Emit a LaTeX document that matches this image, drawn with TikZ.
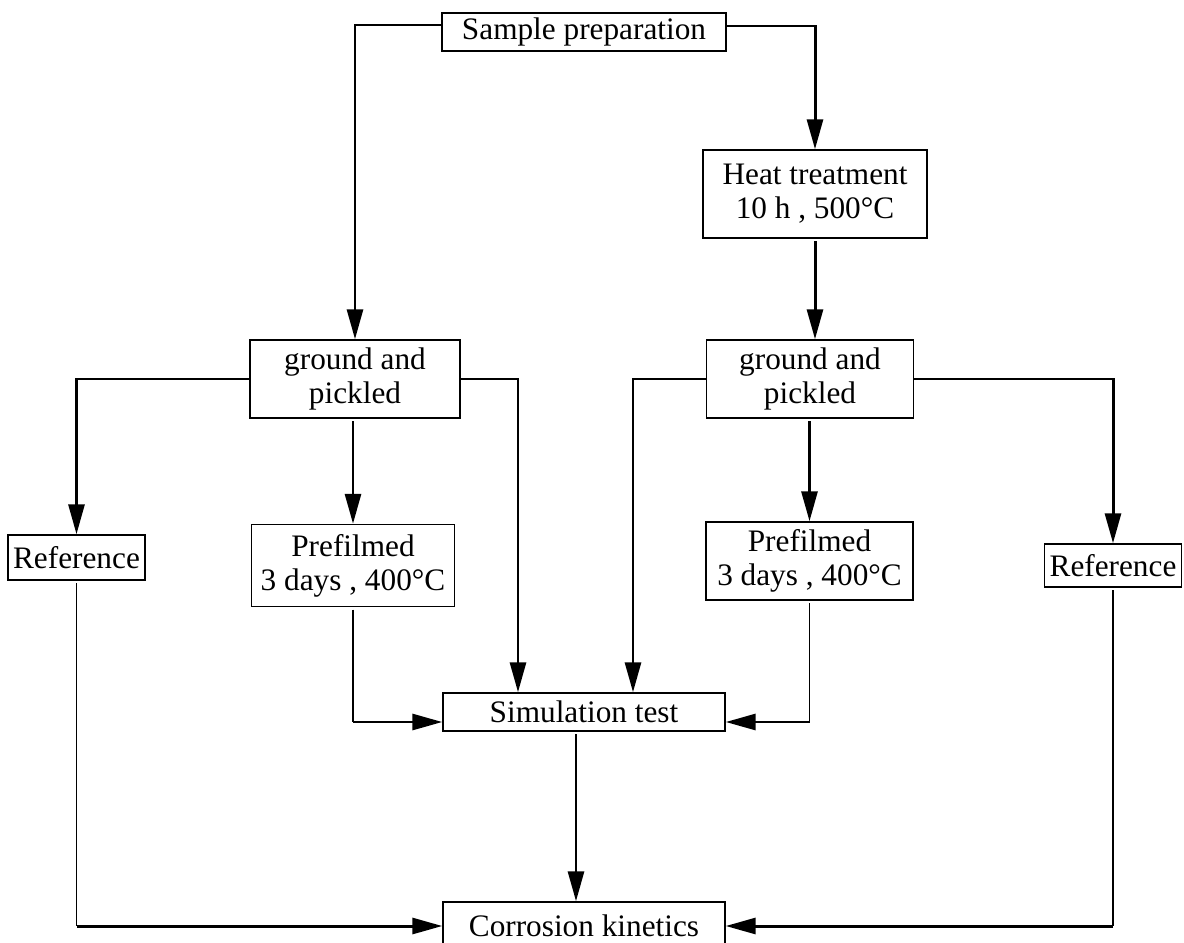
\documentclass[tikz,border=0pt]{standalone}
\usepackage{fontspec}
\setmainfont{Liberation Serif}
\usetikzlibrary{arrows.meta}
\begin{document}
\begin{tikzpicture}[x=0.02cm,y=-0.02cm,
  box/.style={draw, line width=0.85pt, inner sep=0pt, align=center,
    font=\fontsize{17.8}{19.5}\selectfont},
  flow/.style={line width=1.7pt, -{Triangle[length=0.6cm,width=0.32cm]}},
  thinline/.style={line width=1.1pt},
  gap/.style={shorten <=0.05cm}]
\useasboundingbox (0,0) rectangle (1184,943);

% process boxes
\node[box, minimum width=5.68cm, minimum height=0.76cm] (sample) at (584,32) {Sample preparation};
\node[box, minimum width=4.48cm, minimum height=1.76cm] (heat) at (815,194) {Heat treatment\\10 h , 500°C};
\node[box, minimum width=4.2cm, minimum height=1.56cm] (groundL) at (355,379) {ground and\\pickled};
\node[box, minimum width=4.14cm, minimum height=1.56cm] (groundR) at (810,379) {ground and\\pickled};
\node[box, minimum width=2.74cm, minimum height=0.9cm] (refL) at (76.5,557.5) {Reference};
\node[box, minimum width=4.06cm, minimum height=1.64cm] (preL) at (353,565.5) {Prefilmed\\3 days , 400°C};
\node[box, minimum width=4.14cm, minimum height=1.56cm] (preR) at (809.5,561) {Prefilmed\\3 days , 400°C};
\node[box, minimum width=2.74cm, minimum height=0.86cm] (refR) at (1113,565.5) {Reference};
\node[box, minimum width=5.64cm, minimum height=0.76cm] (sim) at (584,712) {Simulation test};
\node[box, minimum width=5.64cm, minimum height=0.96cm] (corr) at (584,926) {Corrosion kinetics};

% helper coordinates for the branch lines
\coordinate (jl) at (518,0);
\coordinate (jr) at (633,0);
\coordinate (ya) at (0,722);

% from sample preparation
\draw[flow] ([yshift=0.14cm]sample.west) -| (groundL.north);
\draw[flow] ([yshift=0.12cm]sample.east) -| (heat.north);
\draw[flow, gap] (heat.south) -- (heat.south |- groundR.north);

% left branch
\draw[flow] (groundL.west) -| (refL.north);
\draw[flow] (groundL.east) -| (jl |- sim.north);
\draw[flow, gap] (preL.north |- groundL.south) -- (preL.north);
\draw[thinline, gap] (preL.south) -- (preL.south |- ya);
\draw[flow] (preL.south |- ya) -- (sim.west |- ya);

% right branch
\draw[flow] (groundR.west) -| (jr |- sim.north);
\draw[flow] (groundR.east) -| (refR.north);
\draw[flow, gap] (preR.north |- groundR.south) -- (preR.north);
\draw[thinline, gap] (preR.south) -- (preR.south |- ya);
\draw[flow] (preR.south |- ya) -- (sim.east |- ya);

% towards corrosion kinetics
\draw[flow, gap] ([xshift=-0.16cm]sim.south) -- ([xshift=-0.16cm]corr.north);
\draw[thinline, gap] (refL.south) -- (refL.south |- corr.west);
\draw[flow] (refL.south |- corr.west) -- (corr.west);
\draw[thinline, gap] (refR.south) -- (refR.south |- corr.east);
\draw[flow] (refR.south |- corr.east) -- (corr.east);
\end{tikzpicture}
\end{document}
